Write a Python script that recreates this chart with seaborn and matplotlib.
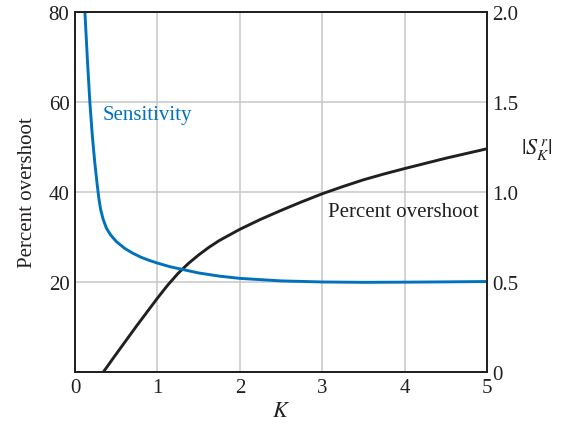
import matplotlib
matplotlib.use("Agg")
import matplotlib.pyplot as plt
import numpy as np
import pandas as pd
import seaborn as sns

# Percent overshoot vs K (left axis)
k_os = [0.344, 0.5, 0.75, 1.0, 1.125, 1.25, 1.375, 1.5, 1.625, 1.75, 2.0, 2.25, 2.5,
        2.75, 3.0, 3.25, 3.5, 3.75, 4.0, 4.5, 5.0]
overshoot = [0, 4.0, 10.3, 16.4, 19.3, 21.9, 24.1, 26.0, 27.7, 29.2, 31.7, 33.9, 35.9,
             37.8, 39.6, 41.2, 42.7, 44.0, 45.2, 47.5, 49.6]

# Sensitivity |S_K^r| vs K (right axis)
k_sens = [0.12, 0.15, 0.18, 0.21, 0.24, 0.27, 0.29, 0.31, 0.34, 0.38, 0.43, 0.5,
          0.6, 0.7, 0.8, 0.9, 1.0, 1.15, 1.3, 1.5, 1.75, 2.0, 2.5, 3.0, 3.5,
          4.0, 4.5, 5.0]
sens = [2.0, 1.7375, 1.5, 1.3125, 1.1625, 1.0375, 0.9625, 0.905, 0.85, 0.80, 0.7625, 0.725,
        0.6875, 0.66, 0.6375, 0.62, 0.605, 0.585, 0.57, 0.55, 0.5325, 0.52, 0.506, 0.5, 0.498,
        0.499, 0.5005, 0.5025]

x_ticks = [0, 1, 2, 3, 4, 5]
left_ticks = [0, 20, 40, 60, 80]
left_labels = ["", "20", "40", "60", "80"]
right_ticks = [0, 0.5, 1.0, 1.5, 2.0]
right_labels = ["0", "0.5", "1.0", "1.5", "2.0"]

sns.set_style("whitegrid")
plt.rcParams['font.family'] = ['Liberation Serif', 'DejaVu Serif']
plt.rcParams['mathtext.fontset'] = 'stix'

fig, ax = plt.subplots(figsize=(5.7, 4.31), dpi=100)
fig.subplots_adjust(left=0.1316, right=0.8545, top=0.970, bottom=0.1346)

blue = '#0071bc'
dark = '#231f20'

sns.lineplot(x=k_os, y=overshoot, ax=ax, color=dark, lw=2.1)
ax.set_xlim(0, 5)
ax.set_ylim(0, 80)
ax.set_xticks(x_ticks)
ax.set_yticks(left_ticks)
ax.set_yticklabels(left_labels)
ax.grid(True, color='#c8c8c8', lw=1.1)
ax.tick_params(length=0, labelsize=15, colors=dark, pad=4)
ax.set_xlabel("$K$", fontsize=16, color=dark)
ax.set_ylabel("Percent overshoot", fontsize=15, color=dark, labelpad=8)
ax.text(3.07, 35.6, "Percent overshoot", fontsize=15, color=dark, va='center', ha='left')
ax.text(0.34, 57.3, "Sensitivity", fontsize=15, color=blue, va='center', ha='left')

ax2 = ax.twinx()
sns.lineplot(x=k_sens, y=sens, ax=ax2, color=blue, lw=2.1)
ax2.set_ylim(0, 2.0)
ax2.set_yticks(right_ticks)
ax2.set_yticklabels(right_labels)
ax2.grid(False)
ax2.tick_params(length=0, labelsize=15, colors=dark, pad=4)
ax2.set_ylabel("$|S_K^{\\,r}|$", fontsize=16, rotation=0, color=dark, va='center', ha='center')
ax2.yaxis.set_label_coords(1.122, 0.62)

for a in (ax, ax2):
    for s in a.spines.values():
        s.set_color(dark)
        s.set_linewidth(1.3)

plt.savefig("out.png", dpi=100)
